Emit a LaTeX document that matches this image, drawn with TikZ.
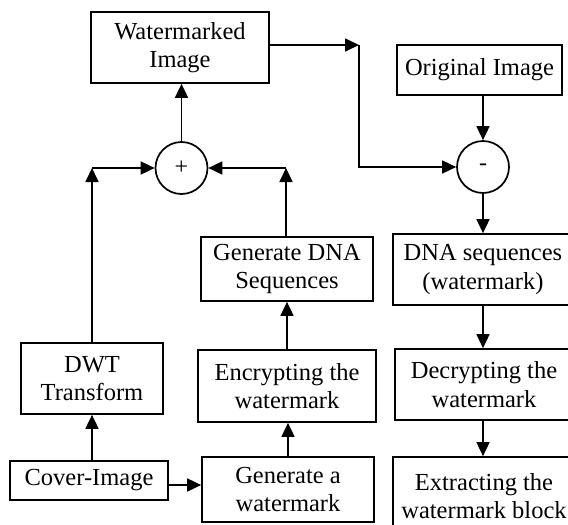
\documentclass[tikz,border=0pt]{standalone}
\usepackage{fontspec}
\setmainfont{Liberation Serif}
\usetikzlibrary{arrows.meta,calc}
\begin{document}
\begin{tikzpicture}[x=1pt,y=-1pt,
  line width=1.7pt,
  box/.style={draw,rectangle,inner sep=0pt,align=center,
    font=\fontsize{24.5}{28.5}\selectfont},
  sumnode/.style={draw,circle,minimum size=52pt,inner sep=0pt,
    font=\fontsize{24}{26}\selectfont},
  arr/.style={-{Triangle[length=14pt,width=13pt]}}]
\useasboundingbox (0,0) rectangle (568,525);
\clip (0,0) rectangle (568,525);

% embedding side
\node[box,minimum width=178pt,minimum height=71pt] (wm) at (180,47.5) {Watermarked\\Image};
\node[sumnode] (plus) at (181.5,168) {+};
\node[box,minimum width=172pt,minimum height=64pt] (gdna) at (287,269) {Generate DNA\\Sequences};
\node[box,minimum width=178pt,minimum height=72pt] (enc) at (287,386) {Encrypting the\\watermark};
\node[box,minimum width=172pt,minimum height=65pt] (gwm) at (288,489.5) {Generate a\\watermark};
\node[box,minimum width=142pt,minimum height=71pt] (dwt) at (92,378.5) {DWT\\Transform};
\node[box,minimum width=158pt,minimum height=39pt] (cover) at (89,480.5) {Cover-Image};

% extraction side
\node[box,minimum width=165pt,minimum height=50pt] (orig) at (479.5,70) {Original Image};
\node[sumnode] (minus) at (483,167) {-};
\node[box,minimum width=180pt,minimum height=71pt] (dnas) at (483,269.5) {DNA sequences\\(watermark)};
\node[box,minimum width=178pt,minimum height=71pt] (dec) at (484,384.5) {Decrypting the\\watermark};
\node[box,minimum width=182pt,minimum height=78pt] (ext) at (484,496) {Extracting the\\watermark block};

% corner points of the routed connectors
\coordinate (cl) at (92,168);
\coordinate (cr) at (286,168);
\coordinate (ct) at (359,45);

% connectors
\draw[arr] (cover.north -| dwt.south) -- (dwt.south);
\draw[arr] (cover.east |- 0,485) -- (gwm.west |- 0,485);
\draw[arr] (gwm.north -| 288,0) -- (enc.south -| 288,0);
\draw[arr] (enc.north -| 287,0) -- (gdna.south -| 287,0);
\draw[arr] (dwt.north) -- (cl);
\draw[arr] (cl) -- (plus.west);
\draw[arr] (gdna.north -| cr) -- (cr);
\draw[arr] (cr) -- (plus.east);
\draw[arr] (plus.north) -- (wm.south -| plus.north);
\draw[arr] (wm.east |- ct) -- (ct);
\draw[arr] (ct) |- (minus.west);
\draw[arr] (orig.south -| minus.north) -- (minus.north);
\draw[arr] (minus.south) -- (dnas.north -| minus.south);
\draw[arr] (dnas.south -| minus.south) -- (dec.north -| minus.south);
\draw[arr] (dec.south -| minus.south) -- (ext.north -| minus.south);
\end{tikzpicture}
\end{document}
